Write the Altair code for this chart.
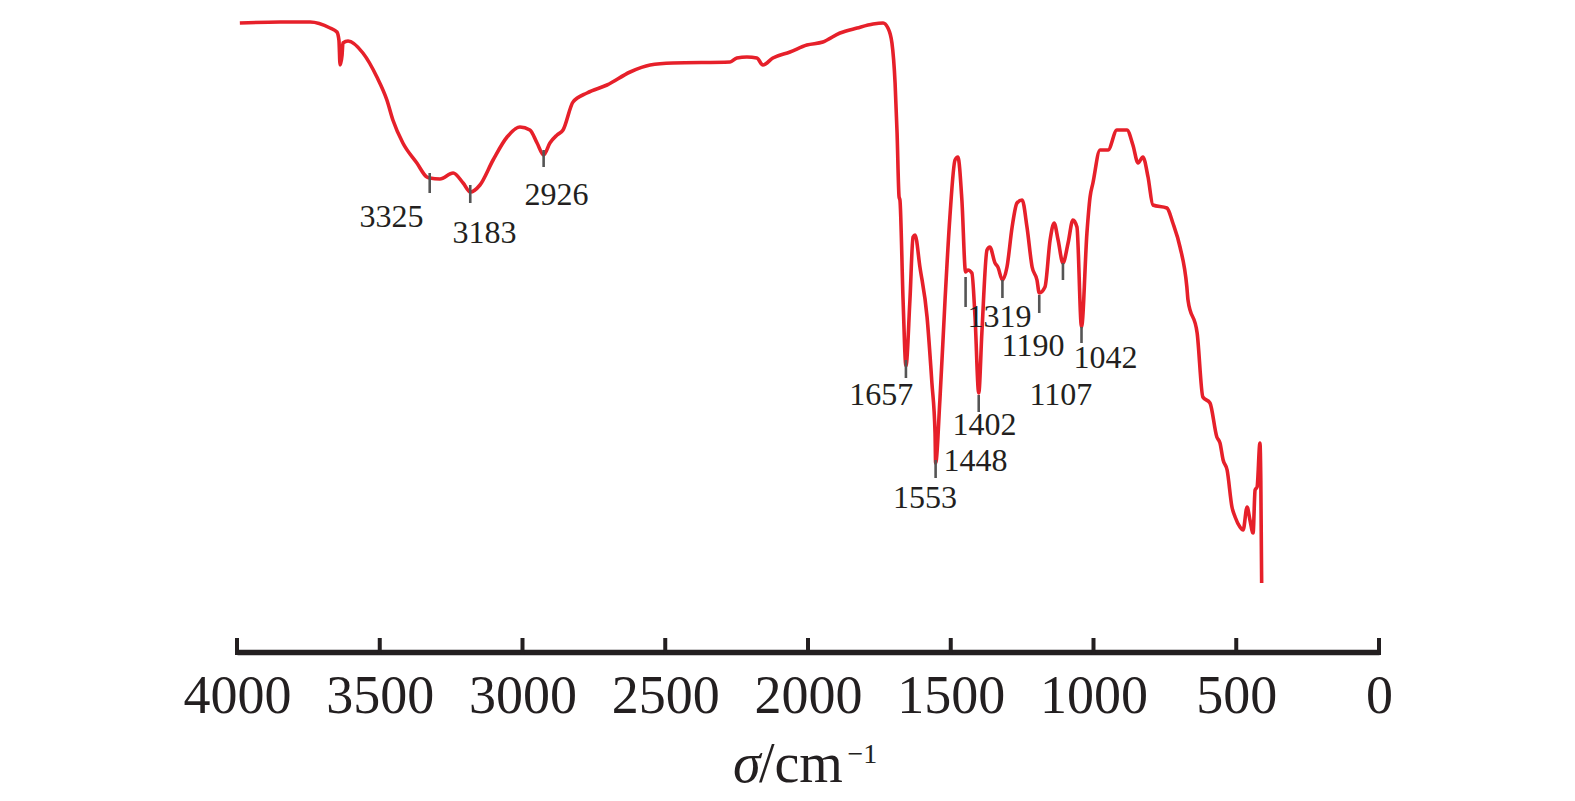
import altair as alt
import pandas as pd

# FTIR spectrum (wavenumber in cm^-1, transmittance in arbitrary units)
wavenumber = [3990, 3849, 3744, 3674, 3650, 3643, 3639, 3632, 3629, 3611, 3559, 3510, 3475, 3454,
              3419, 3370, 3335, 3325, 3289, 3243, 3208, 3183, 3149, 3103, 3054, 3009, 2974, 2949,
              2926, 2904, 2879, 2858, 2823, 2774, 2704, 2623, 2553, 2473, 2273, 2249, 2214, 2179,
              2158, 2123, 2063, 2004, 1948, 1888, 1828, 1772, 1737, 1720, 1706, 1695, 1688, 1681,
              1678, 1667, 1657, 1643, 1632, 1625, 1608, 1583, 1566, 1555, 1553, 1538, 1520, 1503,
              1485, 1475, 1461, 1448, 1440, 1426, 1415, 1402, 1391, 1373, 1363, 1345, 1335, 1319,
              1303, 1285, 1268, 1250, 1233, 1215, 1198, 1190, 1170, 1152, 1138, 1124, 1107, 1089,
              1072, 1058, 1042, 1023, 1012, 1002, 977, 949, 918, 883, 862, 844, 827, 809, 792, 743,
              722, 697, 673, 669, 637, 617, 592, 568, 557, 546, 532, 515, 504, 487, 476, 462, 452,
              441, 434, 427, 417, 414, 411]
transmittance = [629, 630, 630, 624, 620, 612, 587, 597, 609, 611, 599, 575, 552, 532,
                 509, 489, 475, 474, 473, 479, 469, 460, 467, 492, 515, 525, 522, 509,
                 497, 509, 517, 522, 550, 559, 567, 580, 587, 589, 590, 594, 595, 594,
                 587, 594, 600, 607, 610, 619, 624, 628, 629, 624, 609, 569, 519, 455,
                 452, 352, 286, 352, 415, 417, 385, 335, 269, 219, 189, 252, 352, 435,
                 492, 495, 452, 380, 382, 379, 335, 259, 319, 402, 405, 389, 385, 372,
                 385, 425, 449, 452, 425, 385, 372, 359, 365, 412, 429, 412, 389, 409,
                 432, 425, 325, 419, 455, 469, 502, 502, 522, 522, 507, 489, 495, 475, 447, 444,
                 429, 405, 365, 352, 319, 255, 249, 215, 209, 192, 182, 145, 135, 125, 122, 145, 132,
                 119, 162, 165, 209, 172, 69]

# peak annotations
peak_text = ["3325", "3183", "2926", "1657", "1553", "1448", "1402", "1319", "1190", "1107", "1042"]
peak_wn = [3325, 3183, 2926, 1657, 1553, 1448, 1402, 1319, 1190, 1107, 1042]
peak_tick_lo = [459, 449, 485, 274, 174, 345, 240, 354, 339, 372, 309]
peak_tick_hi = [479, 467, 502, 292, 192, 375, 257, 372, 357, 389, 325]
label_wn = [3459, 3133, 2881, 1743, 1590, 1413, 1382, 1329, 1212, 1114, 958]
label_t = [425, 409, 447, 247, 144, 181, 217, 325, 296, 247, 284]

axis_ticks = [4000, 3500, 3000, 2500, 2000, 1500, 1000, 500, 0]

FONT = "Liberation Serif"
INK = "#231F20"

spec_df = pd.DataFrame({"w": wavenumber, "t": transmittance})
peak_df = pd.DataFrame({"w": peak_wn, "lo": peak_tick_lo, "hi": peak_tick_hi})
lab_df = pd.DataFrame({"w": label_wn, "t": label_t, "txt": peak_text})
tick_df = pd.DataFrame({"w": axis_ticks, "lo": [-3] * len(axis_ticks), "hi": [14] * len(axis_ticks)})
title_df = pd.DataFrame({"w": [2263, 2172, 1862], "t": [-130, -130, -111],
                         "txt": ["σ", "/cm", "−1"]})

x_scale = alt.Scale(domain=[4000, 0], nice=False, zero=False)
x_axis = alt.Axis(values=axis_ticks, title=None, ticks=False, grid=False,
                  domainColor=INK, domainWidth=5.5, labelFont=FONT, labelFontSize=54,
                  labelColor=INK, labelPadding=17, labelFlush=False, format="d")
y_scale = alt.Scale(domain=[0, 640], nice=False, zero=False)


def X():
    return alt.X("w:Q", scale=x_scale, axis=x_axis)


line = alt.Chart(spec_df).mark_line(color="#E6202A", strokeWidth=3.6, interpolate="monotone").encode(
    x=X(), y=alt.Y("t:Q", scale=y_scale, axis=None), order=alt.Order("w:Q", sort="descending"))

peak_rules = alt.Chart(peak_df).mark_rule(color="#555555", strokeWidth=2.6).encode(
    x=X(), y=alt.Y("lo:Q", scale=y_scale, axis=None), y2="hi:Q")

peak_labels = alt.Chart(lab_df).mark_text(font=FONT, fontSize=32, color=INK, align="center",
                                          baseline="alphabetic").encode(
    x=X(), y=alt.Y("t:Q", scale=y_scale, axis=None), text="txt:N")

axis_tick_rules = alt.Chart(tick_df).mark_rule(color=INK, strokeWidth=4).encode(
    x=X(), y=alt.Y("lo:Q", scale=y_scale, axis=None), y2="hi:Q")

title_sigma = alt.Chart(title_df.iloc[[0]]).mark_text(font=FONT, fontSize=56, fontStyle="italic",
                                                      color=INK, align="left", baseline="alphabetic").encode(
    x=X(), y=alt.Y("t:Q", scale=y_scale, axis=None), text="txt:N")
title_unit = alt.Chart(title_df.iloc[[1]]).mark_text(font=FONT, fontSize=56, color=INK, align="left",
                                                     baseline="alphabetic").encode(
    x=X(), y=alt.Y("t:Q", scale=y_scale, axis=None), text="txt:N")
title_sup = alt.Chart(title_df.iloc[[2]]).mark_text(font=FONT, fontSize=28, color=INK, align="left",
                                                    baseline="alphabetic").encode(
    x=X(), y=alt.Y("t:Q", scale=y_scale, axis=None), text="txt:N")

chart = alt.layer(line, peak_rules, peak_labels, axis_tick_rules, title_sigma, title_unit, title_sup).properties(
    width=1142, height=640,
    autosize=alt.AutoSizeParams(type="none"),
    padding={"left": 229, "top": 4, "right": 170, "bottom": 142},
    background="white",
).configure_view(stroke=None)

chart.save("out.html", embed_options={"renderer": "svg", "actions": False})
